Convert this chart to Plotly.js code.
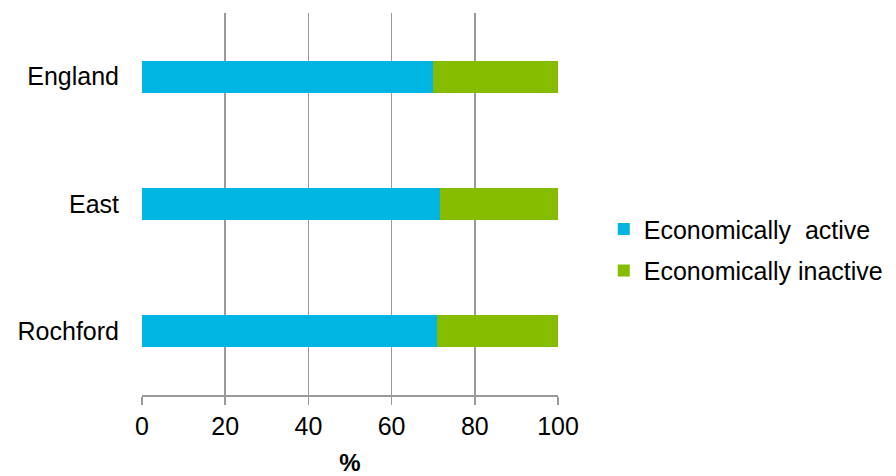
<!DOCTYPE html>
<html>
<head>
<meta charset="utf-8">
<script src="https://cdn.plot.ly/plotly-3.0.1.min.js"></script>
<style>html,body{margin:0;padding:0;background:#fff}#chart{width:896px;height:476px}</style>
</head>
<body>
<div id="chart"></div>
<script>
var categories = ['England', 'East', 'Rochford'];
var activeValues = [69.9, 71.6, 70.8];
var inactiveValues = [30.1, 28.4, 29.2];
var seriesNames = ['Economically\u00A0 active', 'Economically inactive'];
var xTicks = [0, 20, 40, 60, 80, 100];

var font = {family: 'Liberation Sans, Arial, sans-serif', color: '#000'};

var traces = [
  {type: 'bar', orientation: 'h', y: categories, x: activeValues, name: seriesNames[0],
   marker: {color: '#00B5E2'}, legendgroup: 'a', hoverinfo: 'x+y'},
  {type: 'bar', orientation: 'h', y: categories, x: inactiveValues, name: seriesNames[1],
   marker: {color: '#86BC00'}, legendgroup: 'b', hoverinfo: 'x+y'}
];

var layout = {
  width: 896, height: 476,
  margin: {l: 142, r: 338, t: 13, b: 81, autoexpand: false},
  paper_bgcolor: '#fff', plot_bgcolor: '#fff',
  barmode: 'stack',
  bargap: 0.75,
  font: Object.assign({size: 25}, font),
  showlegend: true,
  legend: {x: 1.11, y: 0.38, xanchor: 'left', yanchor: 'middle',
           traceorder: 'grouped', tracegroupgap: 6, itemwidth: 30,
           font: Object.assign({size: 25}, font)},
  xaxis: {range: [0, 100], tickvals: xTicks, ticktext: xTicks.map(String),
          showgrid: true, gridcolor: '#9a9a9a', gridwidth: 1.5,
          showline: true, linecolor: '#9a9a9a', linewidth: 1.5,
          ticks: 'outside', ticklen: 8, tickcolor: '#9a9a9a', tickwidth: 1.5,
          zeroline: false, tickfont: Object.assign({size: 25}, font),
          title: {text: '<b>%</b>', font: Object.assign({size: 24}, font), standoff: 20}},
  yaxis: {type: 'category', autorange: 'reversed', showgrid: false, zeroline: false,
          showline: false, ticks: '', ticklabelstandoff: 22,
          tickfont: Object.assign({size: 25}, font)}
};

Plotly.newPlot('chart', traces, layout, {displayModeBar: false, staticPlot: true});
</script>
</body>
</html>
